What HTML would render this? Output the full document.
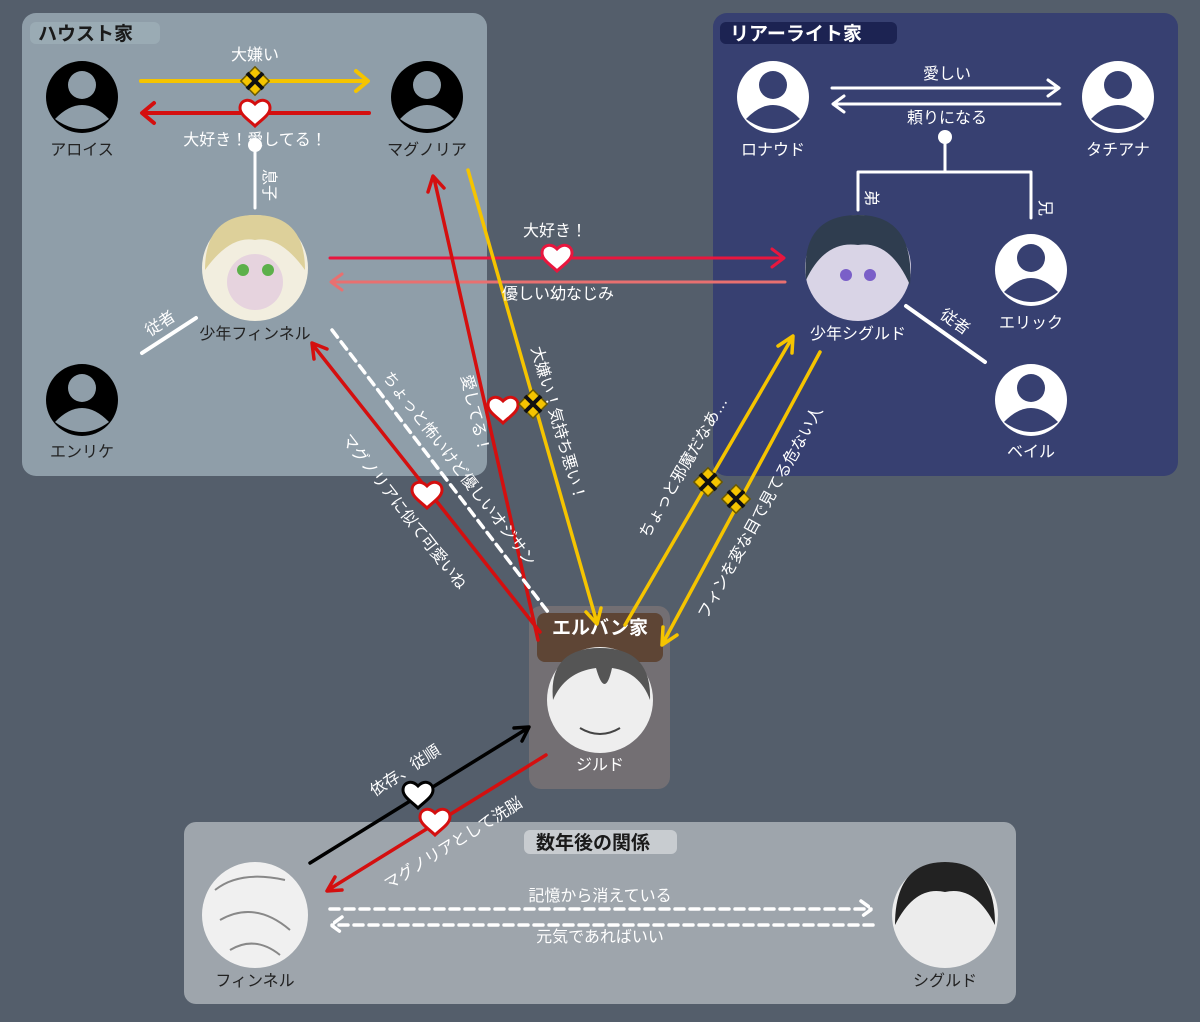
<!DOCTYPE html>
<html><head><meta charset="utf-8"><style>
html,body{margin:0;padding:0;background:#545e6b;}
svg{display:block;font-family:"Liberation Sans","Noto Sans CJK JP",sans-serif;}
</style></head><body>
<svg width="1200" height="1022" viewBox="0 0 1200 1022" xmlns="http://www.w3.org/2000/svg">
<defs>
<g id="pb"><circle r="36" fill="#000"/><circle cy="-12" r="14" fill="#8f9ea9"/><path d="M-27,22 Q0,-6 27,22 Q0,42 -27,22Z" fill="#8f9ea9"/></g>
<g id="pw"><circle r="36" fill="#fff"/><circle cy="-12" r="14" fill="#374071"/><path d="M-27,22 Q0,-6 27,22 Q0,42 -27,22Z" fill="#374071"/></g>
<g id="ht"><path d="M0,13 C-6,7 -15,2 -15,-5 C-15,-12 -7,-16 0,-9 C7,-16 15,-12 15,-5 C15,2 6,7 0,13Z" fill="#fff" stroke-width="3"/></g>
<g id="xx"><rect x="-10" y="-10" width="20" height="20" transform="rotate(45)" fill="#f5c400" stroke="#6b5a00" stroke-width="1.5"/><path d="M-8,-8L8,8M8,-8L-8,8" stroke="#111" stroke-width="4"/></g>
</defs>
<rect width="1200" height="1022" fill="#545e6b"/>
<rect x="22" y="13" width="465" height="463" rx="14" fill="#8f9ea9"/>
<rect x="30" y="22" width="130" height="22" rx="6" fill="#9aabb4"/>
<text x="38" y="40" font-size="19" font-weight="bold" fill="#1a1a1a">ハウスト家</text>
<rect x="713" y="13" width="465" height="463" rx="14" fill="#374071"/>
<rect x="720" y="22" width="177" height="22" rx="6" fill="#1c2352"/>
<text x="730" y="40" font-size="19" font-weight="bold" fill="#fff">リアーライト家</text>
<rect x="529" y="606" width="141" height="183" rx="12" fill="#736f73"/>
<rect x="537" y="613" width="126" height="49" rx="8" fill="#5e4535"/>
<text x="600" y="634" font-size="19" font-weight="bold" fill="#fff" text-anchor="middle">エルバン家</text>
<rect x="184" y="822" width="832" height="182" rx="12" fill="#9ea5ac"/>
<rect x="524" y="830" width="153" height="24" rx="6" fill="#c8ccd0"/>
<text x="593" y="849" font-size="19" font-weight="bold" fill="#1a1a1a" text-anchor="middle">数年後の関係</text>

<use href="#pb" x="82" y="97"/><use href="#pb" x="427" y="97"/><use href="#pb" x="82" y="400"/>
<use href="#pw" x="773" y="97"/><use href="#pw" x="1118" y="97"/><use href="#pw" x="1031" y="270"/><use href="#pw" x="1031" y="400"/>
<g font-size="16" text-anchor="middle" fill="#222">
<text x="82" y="155">アロイス</text><text x="427" y="155">マグノリア</text><text x="82" y="457">エンリケ</text>
<text x="255" y="339">少年フィンネル</text>
</g>
<g font-size="16" text-anchor="middle" fill="#fff">
<text x="773" y="155">ロナウド</text><text x="1118" y="155">タチアナ</text><text x="1031" y="328">エリック</text><text x="1031" y="457">ベイル</text>
<text x="858" y="339">少年シグルド</text><text x="600" y="770">ジルド</text>
</g>
<g font-size="16" text-anchor="middle" fill="#222">
<text x="255" y="986">フィンネル</text><text x="945" y="986">シグルド</text>
</g>
<!-- photos -->
<circle cx="255" cy="268" r="53" fill="#f2eedf"/><path d="M205,270 Q205,215 255,215 Q305,215 305,270 Q280,235 255,240 Q230,235 205,270Z" fill="#ddd09a"/><circle cx="255" cy="282" r="28" fill="#e6d3de"/><circle cx="243" cy="270" r="6" fill="#5cb04a"/><circle cx="268" cy="270" r="6" fill="#5cb04a"/>
<circle cx="858" cy="268" r="53" fill="#d9d4e6"/><path d="M806,280 Q800,215 858,215 Q915,215 910,285 Q890,240 858,245 Q825,240 806,280Z" fill="#2f3d4f"/><circle cx="846" cy="275" r="6" fill="#7a5fc8"/><circle cx="870" cy="275" r="6" fill="#7a5fc8"/>
<circle cx="600" cy="700" r="53" fill="#eeeeee"/><path d="M553,700 Q548,648 600,648 Q652,648 650,700 Q640,672 612,668 Q605,700 596,668 Q565,672 553,700Z" fill="#555"/><path d="M580,728 Q600,740 620,728" stroke="#444" stroke-width="2" fill="none"/>
<circle cx="255" cy="915" r="53" fill="#f0f0f0"/><path d="M215,890 Q240,870 285,880 M220,920 Q255,900 290,930 M230,950 Q255,935 280,955" stroke="#888" stroke-width="2" fill="none"/>
<circle cx="945" cy="915" r="53" fill="#ececec"/><path d="M895,925 Q895,862 945,862 Q995,862 995,925 Q975,885 945,892 Q915,885 895,925Z" fill="#222"/>

<g fill="none" stroke-width="4" stroke-linecap="round" stroke-linejoin="round">
<path d="M141,81H367M356,71L368,81L356,91" stroke="#f5c400"/>
<path d="M369,113H143M154,103L142,113L154,123" stroke="#d40f0f"/>
<path d="M255,145V208" stroke="#fff" stroke-width="3"/>
<path d="M142,353L196,318" stroke="#fff"/>
<path d="M330,258H783M772,249L784,258L772,267" stroke="#e8163e" stroke-width="3"/>
<path d="M785,282H332M342,274L331,282L342,290" stroke="#e87070" stroke-width="3"/>
<path d="M832,88H1058M1048,80L1059,88L1048,96" stroke="#fff" stroke-width="3"/>
<path d="M1060,104H834M844,96L833,104L844,112" stroke="#fff" stroke-width="3"/>
<path d="M945,137V172M858,210V172H1031V218" stroke="#fff" stroke-width="3"/>
<path d="M906,306L985,362" stroke="#fff"/>
<path d="M538,640L434,178M428,192L433,176L444,188" stroke="#d40f0f" stroke-width="3.5"/>
<path d="M468,170L597,623M586,612L597,624L601,608" stroke="#f5c400" stroke-width="3.5"/>
<path d="M540,632L313,345M314,359L312,343L327,349" stroke="#d40f0f" stroke-width="3.5"/>
<path d="M332,330L548,612" stroke="#fff" stroke-width="3.5" stroke-dasharray="9,6"/>
<path d="M625,625L792,338M778,346L793,336L792,353" stroke="#f5c400" stroke-width="3.5"/>
<path d="M820,352L663,643M663,627L662,645L677,635" stroke="#f5c400" stroke-width="3.5"/>
<path d="M310,863L528,728M514,728L529,727L522,741" stroke="#000" stroke-width="3.5"/>
<path d="M546,755L328,890M335,877L327,891L342,890" stroke="#d40f0f" stroke-width="3.5"/>
<path d="M330,909H871M861,901L872,909L861,917" stroke="#fff" stroke-width="3.5" stroke-dasharray="9,6"/>
<path d="M873,925H332M342,917L331,925L342,933" stroke="#fff" stroke-width="3.5" stroke-dasharray="9,6"/>
</g>
<circle cx="255" cy="145" r="7" fill="#fff"/>
<circle cx="945" cy="137" r="7" fill="#fff"/>
<use href="#xx" x="255" y="81"/>
<use href="#ht" x="255" y="113" stroke="#d40f0f"/>
<use href="#ht" x="557" y="258" stroke="#e8163e"/>
<use href="#ht" x="503" y="410" stroke="#d40f0f"/>
<use href="#xx" x="533" y="404"/>
<use href="#ht" x="427" y="495" stroke="#d40f0f"/>
<use href="#xx" x="708" y="482"/><use href="#xx" x="736" y="499"/>
<use href="#ht" x="418" y="795" stroke="#000"/>
<use href="#ht" x="435" y="822" stroke="#d40f0f"/>
<g font-size="16" fill="#fff" text-anchor="middle">
<text x="255" y="60">大嫌い</text>
<text x="255" y="145">大好き！愛してる！</text>
<text x="555" y="236">大好き！</text>
<text x="558" y="299">優しい幼なじみ</text>
<text x="947" y="79">愛しい</text>
<text x="947" y="123">頼りになる</text>
<text transform="translate(264,185) rotate(90)">息子</text>
<text transform="translate(866,198) rotate(90)">弟</text>
<text transform="translate(1040,208) rotate(90)">兄</text>
<text transform="translate(163,328) rotate(-33)">従者</text>
<text transform="translate(952,326) rotate(35)">従者</text>
<text transform="translate(470,415) rotate(77)">愛してる！</text>
<text transform="translate(553,425) rotate(74)">大嫌い！気持ち悪い！</text>
<text transform="translate(400,515) rotate(52)">マグノリアに似て可愛いね</text>
<text transform="translate(455,472) rotate(52.5)">ちょっと怖いけど優しいオジサン</text>
<text transform="translate(688,470) rotate(-60)">ちょっと邪魔だなあ…</text>
<text transform="translate(765,515) rotate(-61)">フィンを変な目で見てる危ない人</text>
<text transform="translate(408,775) rotate(-33)">依存、従順</text>
<text transform="translate(456,848) rotate(-32)">マグノリアとして洗脳</text>
<text x="600" y="901">記憶から消えている</text>
<text x="600" y="942">元気であればいい</text>
</g>
</svg>
</body></html>
